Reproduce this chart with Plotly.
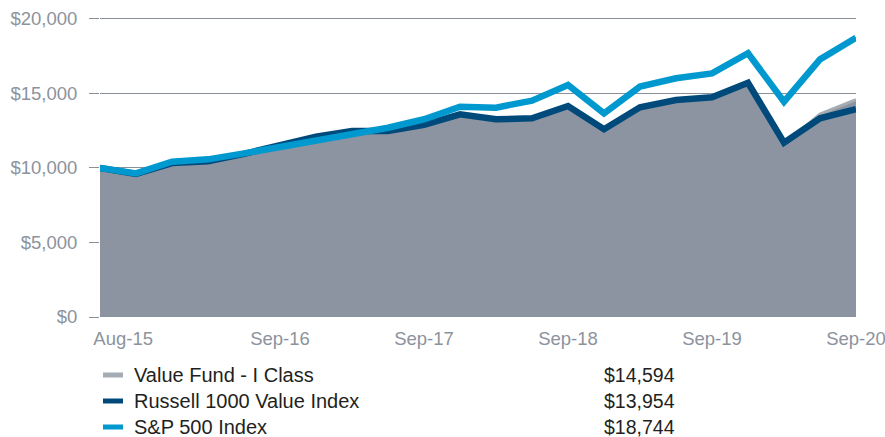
import plotly.graph_objects as go

dates = ["Aug-15", "Sep-15", "Dec-15", "Mar-16", "Jun-16", "Sep-16", "Dec-16", "Mar-17",
         "Jun-17", "Sep-17", "Dec-17", "Mar-18", "Jun-18", "Sep-18", "Dec-18", "Mar-19",
         "Jun-19", "Sep-19", "Dec-19", "Mar-20", "Jun-20", "Sep-20"]

value_fund = [10000, 9560, 10250, 10380, 10900, 11480, 12030, 12400, 12450, 12820, 13520,
              13180, 13250, 14080, 12520, 13990, 14480, 14680, 15640, 11600, 13620, 14594]
russell_1000_value = [10000, 9600, 10330, 10450, 10950, 11540, 12100, 12480, 12480, 12890, 13600,
                      13270, 13330, 14160, 12600, 14070, 14560, 14740, 15720, 11700, 13330, 13954]
sp500 = [10000, 9640, 10420, 10580, 10980, 11430, 11800, 12330, 12700, 13270, 14110,
         14050, 14520, 15570, 13670, 15460, 16020, 16350, 17700, 14450, 17290, 18744]

ending_values = ["$14,594", "$13,954", "$18,744"]
series_names = ["Value Fund - I Class", "Russell 1000 Value Index", "S&P 500 Index"]

tick_dates = ["Aug-15", "Sep-16", "Sep-17", "Sep-18", "Sep-19", "Sep-20"]
tick_text = ["\u00a0" * 9 + "Aug-15", "Sep-16", "Sep-17", "Sep-18", "Sep-19", "Sep-20"]
y_ticks = [0, 5000, 10000, 15000, 20000]
y_text = ["$0", "$5,000", "$10,000", "$15,000", "$20,000"]

AREA = "#8b94a0"
FUND_LINE = "#a6acb3"
NAVY = "#004a7b"
BLUE = "#0099cf"
GRAY_TXT = "#8c939c"
DARK_TXT = "#231f20"
FONT = "Liberation Sans, Arial, sans-serif"
series_colors = [FUND_LINE, NAVY, BLUE]

fig = go.Figure()
fig.add_trace(go.Scatter(x=dates, y=value_fund, mode="lines", fill="tozeroy",
                         fillcolor=AREA, line=dict(width=0, color=AREA),
                         showlegend=False, hoverinfo="skip"))
fig.add_trace(go.Scatter(x=dates, y=value_fund, mode="lines", name=series_names[0],
                         line=dict(width=3, color=FUND_LINE), showlegend=False))
fig.add_trace(go.Scatter(x=dates, y=russell_1000_value, mode="lines", name=series_names[1],
                         line=dict(width=6.5, color=NAVY), showlegend=False))
fig.add_trace(go.Scatter(x=dates, y=sp500, mode="lines", name=series_names[2],
                         line=dict(width=6.5, color=BLUE), showlegend=False))

# pixel geometry of the plot area
PL, PW = 100, 756
PB, PH = 317, 301


def px_x(p):
    return (p - PL) / PW


def px_y(p):
    return (PB - p) / PH


for i, (name, val, col) in enumerate(zip(series_names, ending_values, series_colors)):
    ypix = 375 + 26 * i
    fig.add_shape(type="line", xref="paper", yref="paper",
                  x0=px_x(103), x1=px_x(123), y0=px_y(ypix), y1=px_y(ypix),
                  line=dict(color=col, width=5))
    fig.add_annotation(x=px_x(132), y=px_y(ypix), xref="paper", yref="paper",
                       text=name, showarrow=False, xanchor="left", yanchor="middle",
                       font=dict(family=FONT, size=20, color=DARK_TXT))
    fig.add_annotation(x=px_x(677), y=px_y(ypix), xref="paper", yref="paper",
                       text=val, showarrow=False, xanchor="right", yanchor="middle",
                       font=dict(family=FONT, size=19.5, color=DARK_TXT))

fig.update_layout(
    width=885, height=437,
    margin=dict(l=100, r=29, t=16, b=120, autoexpand=False),
    paper_bgcolor="white", plot_bgcolor="white",
    font=dict(family=FONT, size=18.5, color=GRAY_TXT),
    showlegend=False,
    xaxis=dict(type="category", categoryorder="array", categoryarray=dates,
               range=[0, len(dates) - 1], tickmode="array", tickvals=tick_dates,
               ticktext=tick_text, showgrid=False, zeroline=False, showline=False,
               ticks="", ticklabelstandoff=8,
               tickfont=dict(family=FONT, size=18.5, color=GRAY_TXT)),
    yaxis=dict(range=[0, 20200], tickmode="array", tickvals=y_ticks, ticktext=y_text,
               showgrid=True, gridcolor="#8a9099", gridwidth=1, zeroline=False,
               showline=False, ticks="outside", ticklen=10, tickcolor="#8a9099",
               tickwidth=1, ticklabelstandoff=8,
               tickfont=dict(family=FONT, size=18.5, color=GRAY_TXT)),
)

fig.write_html("out.html")
